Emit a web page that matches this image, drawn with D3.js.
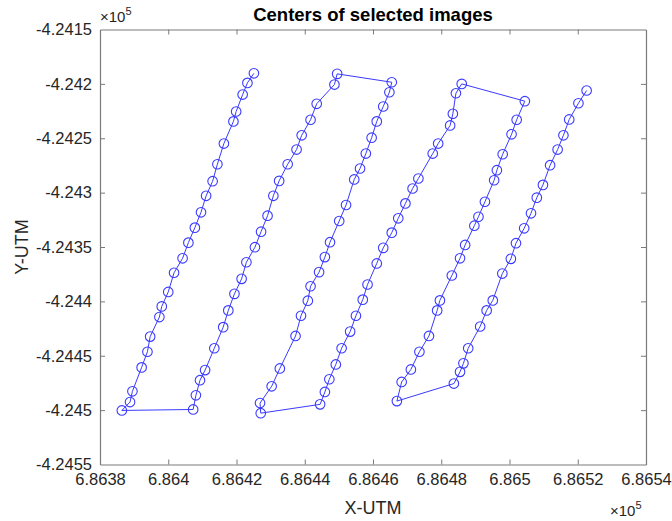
<!DOCTYPE html>
<html>
<head>
<meta charset="utf-8">
<script src="https://cdn.jsdelivr.net/npm/d3@7/dist/d3.min.js"></script>
<style>
  html, body { margin: 0; padding: 0; background: #fff; }
  svg { display: block; }
  text { font-family: "Liberation Sans", Arial, Helvetica, sans-serif; }
</style>
</head>
<body>
<svg id="chart" width="672" height="521"></svg>
<script>
// ---- Data (UTM metres), flight lines in acquisition order ----
const lineA_x = [686425.1, 686423.2, 686421.8, 686419.9, 686419.1, 686416.3, 686414.4, 686413.0, 686411.1, 686409.6, 686407.8, 686405.9, 686404.2, 686401.7, 686400.0, 686398.1, 686397.4, 686394.7, 686393.9, 686392.2, 686389.5, 686388.8, 686386.4];
const lineA_y = [-424190.3, -424199.1, -424209.8, -424225.4, -424234.5, -424254.9, -424273.9, -424289.5, -424302.9, -424318.1, -424332.2, -424346.0, -424360.4, -424373.7, -424391.3, -424404.6, -424414.4, -424432.4, -424446.3, -424460.7, -424482.7, -424492.6, -424500.3];

const lineB_x = [686407.3, 686408.1, 686409.3, 686410.8, 686413.5, 686416.1, 686417.6, 686419.4, 686421.5, 686422.9, 686425.4, 686427.2, 686429.1, 686430.8, 686432.5, 686435.0, 686437.6, 686439.1, 686441.7, 686443.5, 686448.7, 686449.5];
const lineB_y = [-424499.4, -424486.4, -424472.5, -424463.2, -424443.1, -424423.7, -424408.3, -424393.1, -424379.3, -424364.0, -424350.2, -424335.9, -424321.2, -424302.9, -424289.2, -424273.9, -424260.4, -424247.3, -424233.0, -424218.3, -424200.6, -424190.8];

const lineC_x = [686465.5, 686464.8, 686463.0, 686461.1, 686459.6, 686457.9, 686456.2, 686454.5, 686452.1, 686450.1, 686447.4, 686445.9, 686444.2, 686441.7, 686440.9, 686438.9, 686437.3, 686432.7, 686430.3, 686426.9, 686427.1];
const lineC_y = [-424198.5, -424207.7, -424220.8, -424234.5, -424249.5, -424264.1, -424277.8, -424287.9, -424311.4, -424326.1, -424345.6, -424359.3, -424373.1, -424386.1, -424399.4, -424413.2, -424431.8, -424461.7, -424478.1, -424493.5, -424502.8];

const lineD_x = [686444.5, 686445.9, 686447.2, 686449.1, 686450.8, 686453.3, 686455.0, 686457.0, 686458.4, 686461.1, 686463.0, 686465.5, 686467.4, 686469.5, 686471.6, 686473.3, 686477.5, 686479.1, 686482.6, 686483.4, 686484.3, 686486.0];
const lineD_y = [-424494.7, -424483.3, -424471.6, -424458.0, -424443.1, -424427.8, -424413.2, -424398.4, -424384.5, -424365.1, -424350.8, -424336.8, -424323.6, -424309.9, -424296.2, -424287.0, -424264.1, -424254.9, -424238.2, -424227.5, -424208.6, -424200.0];

const lineE_x = [686504.5, 686502.1, 686500.6, 686498.0, 686496.3, 686495.5, 686492.8, 686490.9, 686489.7, 686487.0, 686485.5, 686483.1, 686479.6, 686478.8, 686476.4, 686473.6, 686471.1, 686468.4, 686467.0];
const lineE_y = [-424215.9, -424233.0, -424246.4, -424264.7, -424279.4, -424288.6, -424308.4, -424322.2, -424330.4, -424348.1, -424360.4, -424376.2, -424399.1, -424408.3, -424431.8, -424446.3, -424462.6, -424474.1, -424491.7];

const lineF_x = [686483.7, 686485.5, 686486.5, 686487.9, 686491.4, 686493.3, 686495.1, 686497.9, 686500.4, 686501.9, 686504.3, 686506.3, 686508.0, 686509.8, 686511.9, 686514.1, 686515.8, 686517.5, 686520.2, 686522.6];
const lineF_y = [-424475.6, -424464.8, -424457.0, -424443.1, -424423.1, -424408.3, -424399.1, -424374.4, -424360.9, -424346.5, -424332.8, -424319.0, -424304.6, -424292.9, -424274.8, -424260.4, -424247.3, -424232.7, -424217.8, -424206.1];

// ---- Axis ticks (scaled by 1e5) ----
const xTickLabels = ["6.8638", "6.864", "6.8642", "6.8644", "6.8646", "6.8648", "6.865", "6.8652", "6.8654"];
const yTickLabels = ["-4.2455", "-4.245", "-4.2445", "-4.244", "-4.2435", "-4.243", "-4.2425", "-4.242", "-4.2415"];
const titleText = "Centers of selected images";
const xLabelText = "X-UTM";
const yLabelText = "Y-UTM";

// ---- Build path ----
const lines = [[lineA_x, lineA_y], [lineB_x, lineB_y], [lineC_x, lineC_y],
               [lineD_x, lineD_y], [lineE_x, lineE_y], [lineF_x, lineF_y]];
const pts = [];
lines.forEach(([xs, ys]) => xs.forEach((x, i) => pts.push([x, ys[i]])));

const W = 672, H = 521;
const m = { left: 100, right: 26, top: 29.5, bottom: 56.5 };
const iw = W - m.left - m.right, ih = H - m.top - m.bottom;

const xTicks = xTickLabels.map(s => Math.round(+s * 1e5));
const yTicks = yTickLabels.map(s => Math.round(+s * 1e5));

const x = d3.scaleLinear().domain([xTicks[0], xTicks[xTicks.length - 1]]).range([0, iw]);
const y = d3.scaleLinear().domain([yTicks[0], yTicks[yTicks.length - 1]]).range([ih, 0]);

const svg = d3.select("#chart");
svg.append("rect").attr("width", W).attr("height", H).attr("fill", "#fff");
const g = svg.append("g").attr("transform", `translate(${m.left},${m.top})`);

const axisColor = "#7a7a7a";
const labelColor = "#262626";
const fs = 16.5;
const fmtX = d => xTickLabels[xTicks.indexOf(d)];
const fmtY = d => yTickLabels[yTicks.indexOf(d)];

// bottom axis
const gx = g.append("g").attr("transform", `translate(0,${ih})`)
  .call(d3.axisBottom(x).tickValues(xTicks).tickFormat(fmtX).tickSizeInner(-5).tickSizeOuter(0).tickPadding(9));
// top axis (mirrored ticks)
const gxt = g.append("g")
  .call(d3.axisTop(x).tickValues(xTicks).tickFormat("").tickSizeInner(-5).tickSizeOuter(0));
// left axis
const gy = g.append("g")
  .call(d3.axisLeft(y).tickValues(yTicks).tickFormat(fmtY).tickSizeInner(-5).tickSizeOuter(0).tickPadding(8));
// right axis
const gyr = g.append("g").attr("transform", `translate(${iw},0)`)
  .call(d3.axisRight(y).tickValues(yTicks).tickFormat("").tickSizeInner(-5).tickSizeOuter(0));

[gx, gxt, gy, gyr].forEach(a => {
  a.selectAll("path.domain").attr("stroke", axisColor).attr("stroke-width", 1.2);
  a.selectAll(".tick line").attr("stroke", axisColor).attr("stroke-width", 1);
  a.selectAll(".tick text").attr("fill", labelColor).attr("font-size", fs)
    .attr("font-family", "Liberation Sans, Arial, sans-serif");
});
// remove tick marks at the box corners
[gx, gxt].forEach(a => a.selectAll(".tick line").filter((d, i) => i === 0 || i === xTicks.length - 1).remove());
[gy, gyr].forEach(a => a.selectAll(".tick line").filter((d, i) => i === 0 || i === yTicks.length - 1).remove());

// data line
const blue = "#3a3aff";
g.append("path")
  .datum(pts)
  .attr("fill", "none")
  .attr("stroke", blue)
  .attr("stroke-width", 1)
  .attr("d", d3.line().x(d => x(d[0])).y(d => y(d[1])));

// circle markers
g.selectAll("circle.mk").data(pts).join("circle")
  .attr("class", "mk")
  .attr("cx", d => x(d[0])).attr("cy", d => y(d[1]))
  .attr("r", 4.8)
  .attr("fill", "none")
  .attr("stroke", blue)
  .attr("stroke-width", 1.1);

// title
svg.append("text")
  .attr("x", m.left + iw / 2).attr("y", 21)
  .attr("text-anchor", "middle")
  .attr("font-size", 18.5).attr("font-weight", "bold").attr("fill", "#000")
  .text(titleText);

// axis labels
svg.append("text")
  .attr("x", m.left + iw / 2).attr("y", 514)
  .attr("text-anchor", "middle")
  .attr("font-size", 18).attr("fill", labelColor)
  .text(xLabelText);
svg.append("text")
  .attr("transform", `translate(28,${m.top + ih / 2}) rotate(-90)`)
  .attr("text-anchor", "middle")
  .attr("font-size", 18).attr("fill", labelColor)
  .text(yLabelText);

// exponent labels (x10^5)
function expLabel(xp, yp) {
  const t = svg.append("text").attr("x", xp).attr("y", yp)
    .attr("font-size", 15).attr("fill", labelColor);
  t.append("tspan").text("\u00d710");
  t.append("tspan").attr("dy", -7).attr("font-size", 11).text("5");
}
expLabel(100, 22);
expLabel(610, 516);
</script>
</body>
</html>
